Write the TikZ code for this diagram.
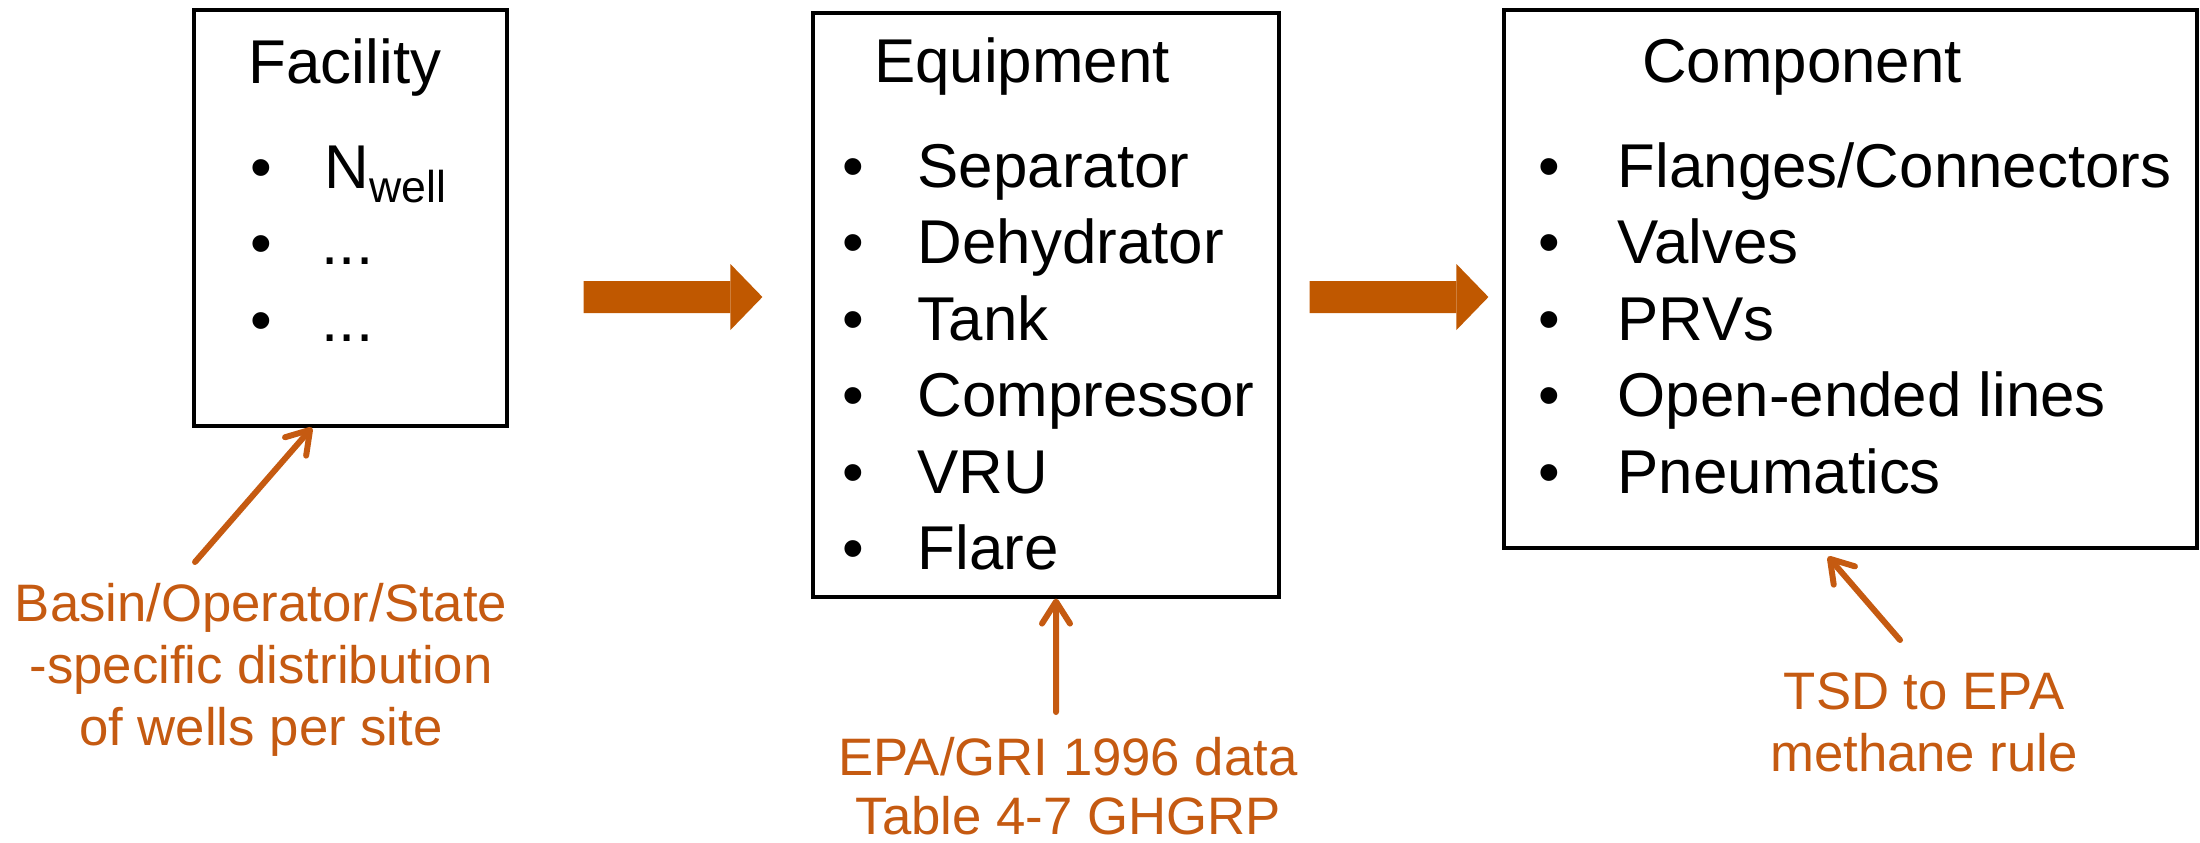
\documentclass[tikz,border=0pt]{standalone}
\usepackage{fontspec}
\setmainfont{Liberation Sans}
\usetikzlibrary{arrows.meta}
\definecolor{flowOrange}{RGB}{192,88,0}
\definecolor{noteOrange}{RGB}{197,90,17}
\begin{document}
\begin{tikzpicture}
        [box/.style={draw, line width=0.9pt, inner sep=0pt},
        boxTitle/.style={anchor=base, inner sep=0pt, font=\fontsize{17.6}{21}\selectfont},
        listItem/.style={anchor=base west, inner sep=0pt, font=\fontsize{17.6}{21}\selectfont},
        listBullet/.style={anchor=base, inner sep=0pt, font=\fontsize{17.6}{21}\selectfont},
        noteText/.style={anchor=north, align=center, inner sep=0pt, text=noteOrange, font=\fontsize{15}{17.6}\selectfont},
        noteArrow/.style={draw=noteOrange, line width=1.7pt, line cap=round, -{Straight Barb[round, length=2.2mm, width=2.8mm]}},
        flowArrow/.style={draw=flowOrange, line width=0.32cm, -{Triangle[length=0.32cm, width=0.66cm, line width=0pt]}}]
        \useasboundingbox (0,0) rectangle (22,-8.42);

        % boxes
        \node[box, minimum width=3.13cm, minimum height=4.16cm] (fac) at (3.505,-2.18) {};
        \node[box, minimum width=4.66cm, minimum height=5.84cm] (equ) at (10.46,-3.05) {};
        \node[box, minimum width=6.93cm, minimum height=5.38cm] (com) at (18.505,-2.79) {};

        % facility
        \node[boxTitle] (facT) at (3.45,-0.83) {Facility};
        \node[listBullet] (facB1) at (2.61,-1.88) {\textbullet};
        \node[listBullet] (facB2) at (2.61,-2.645) {\textbullet};
        \node[listBullet] (facB3) at (2.61,-3.41) {\textbullet};
        \node[listItem] (fac1) at (3.24,-1.88) {N\raisebox{-0.14cm}{\fontsize{12.7}{14}\selectfont well}};
        \node[listItem] (fac2) at (3.21,-2.645) {...};
        \node[listItem] (fac3) at (3.21,-3.41) {...};

        % equipment
        \node[boxTitle] (equT) at (10.22,-0.82) {Equipment};
        \node[listBullet] (equB1) at (8.53,-1.87) {\textbullet};
        \node[listBullet] (equB2) at (8.53,-2.635) {\textbullet};
        \node[listBullet] (equB3) at (8.53,-3.40) {\textbullet};
        \node[listBullet] (equB4) at (8.53,-4.165) {\textbullet};
        \node[listBullet] (equB5) at (8.53,-4.93) {\textbullet};
        \node[listBullet] (equB6) at (8.53,-5.695) {\textbullet};
        \node[listItem] (equ1) at (9.17,-1.87) {Separator};
        \node[listItem] (equ2) at (9.17,-2.635) {Dehydrator};
        \node[listItem] (equ3) at (9.17,-3.40) {Tank};
        \node[listItem] (equ4) at (9.17,-4.165) {Compressor};
        \node[listItem] (equ5) at (9.17,-4.93) {VRU};
        \node[listItem] (equ6) at (9.17,-5.695) {Flare};

        % component
        \node[boxTitle] (comT) at (18.02,-0.82) {Component};
        \node[listBullet] (comB1) at (15.49,-1.87) {\textbullet};
        \node[listBullet] (comB2) at (15.49,-2.635) {\textbullet};
        \node[listBullet] (comB3) at (15.49,-3.40) {\textbullet};
        \node[listBullet] (comB4) at (15.49,-4.165) {\textbullet};
        \node[listBullet] (comB5) at (15.49,-4.93) {\textbullet};
        \node[listItem] (com1) at (16.17,-1.87) {Flanges/Connectors};
        \node[listItem] (com2) at (16.17,-2.635) {Valves};
        \node[listItem] (com3) at (16.17,-3.40) {PRVs};
        \node[listItem] (com4) at (16.17,-4.165) {Open-ended lines};
        \node[listItem] (com5) at (16.17,-4.93) {Pneumatics};

        % source notes
        \node[noteText] (basin) at (2.61,-5.83) {Basin/Operator/State\\-specific distribution\\of wells per site};
        \node[noteText, font=\fontsize{15}{16.8}\selectfont] (epa) at (10.68,-7.37) {EPA/GRI 1996 data\\Table 4-7 GHGRP};
        \node[noteText] (tsd) at (19.24,-6.72) {TSD to EPA\\methane rule};

        \draw[flowArrow] ([shift={(0.75,-0.79)}]fac.east) -- ([shift={(-0.49,0.08)}]equ.west);
        \draw[flowArrow] ([shift={(0.29,0.08)}]equ.east) -- ([shift={(-0.14,-0.18)}]com.west);

        \draw[noteArrow] ([shift={(-0.66,0.21)}]basin.north) -- ([xshift=-0.385cm]fac.south);
        \draw[noteArrow] ([shift={(-0.12,0.25)}]epa.north) -- ([xshift=0.10cm]equ.south);
        \draw[noteArrow] ([shift={(-0.24,0.32)}]tsd.north) -- ([shift={(-0.225,-0.07)}]com.south);
    \end{tikzpicture}
\end{document}
